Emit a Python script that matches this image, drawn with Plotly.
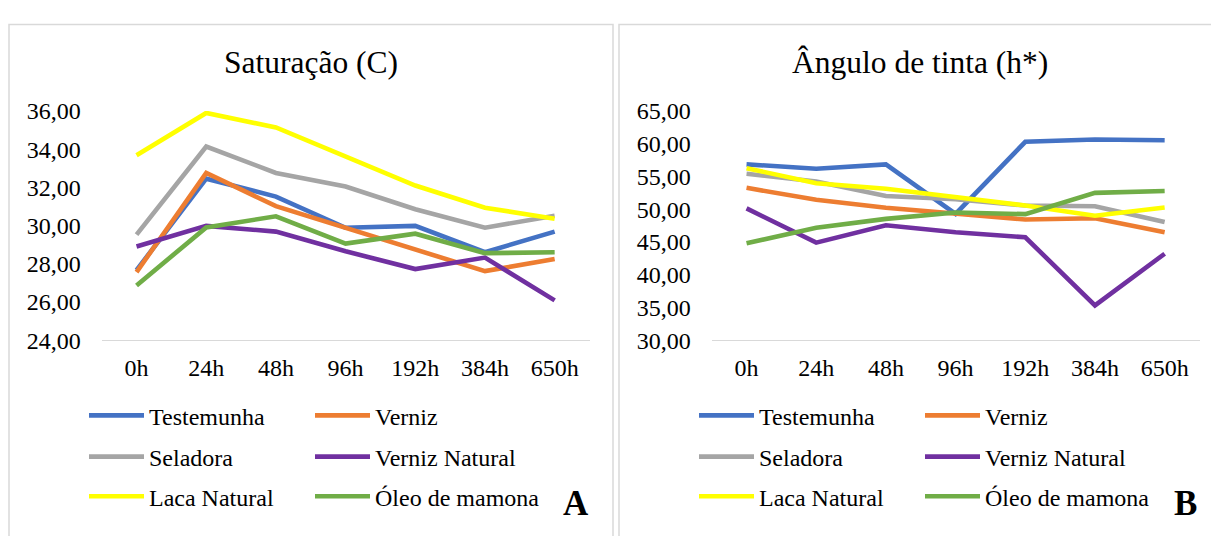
import plotly.graph_objects as go

categories = ["0h", "24h", "48h", "96h", "192h", "384h", "650h"]
series_names = ["Testemunha", "Verniz", "Seladora", "Verniz Natural", "Laca Natural", "Óleo de mamona"]
colors = ["#4472C4", "#ED7D31", "#A5A5A5", "#7030A0", "#FFFF00", "#70AD47"]

# Panel A: Saturação (C)
sat_testemunha = [27.67, 32.46, 31.52, 29.89, 29.99, 28.61, 29.69]
sat_verniz = [27.57, 32.76, 31.02, 29.89, 28.78, 27.62, 28.25]
sat_seladora = [29.53, 34.14, 32.76, 32.05, 30.86, 29.89, 30.52]
sat_verniz_natural = [28.91, 29.99, 29.69, 28.66, 27.73, 28.33, 26.09]
sat_laca_natural = [33.68, 35.90, 35.14, 33.60, 32.10, 30.94, 30.36]
sat_oleo = [26.87, 29.91, 30.49, 29.06, 29.58, 28.56, 28.61]

# Panel B: Ângulo de tinta (h*)
hue_testemunha = [56.86, 56.19, 56.86, 49.30, 60.30, 60.64, 60.54]
hue_verniz = [53.28, 51.44, 50.23, 49.26, 48.44, 48.64, 46.50]
hue_seladora = [55.41, 54.25, 52.02, 51.54, 50.57, 50.47, 48.05]
hue_verniz_natural = [50.14, 44.91, 47.57, 46.50, 45.73, 35.32, 43.21]
hue_laca_natural = [56.28, 53.96, 53.14, 51.93, 50.57, 49.02, 50.28]
hue_oleo = [44.81, 47.18, 48.54, 49.50, 49.26, 52.50, 52.80]

sat_series = [sat_testemunha, sat_verniz, sat_seladora, sat_verniz_natural, sat_laca_natural, sat_oleo]
hue_series = [hue_testemunha, hue_verniz, hue_seladora, hue_verniz_natural, hue_laca_natural, hue_oleo]

sat_ticks = [24, 26, 28, 30, 32, 34, 36]
hue_ticks = [30, 35, 40, 45, 50, 55, 60, 65]

W, H = 1211, 536
FONT = "Liberation Serif, Times New Roman, serif"

fig = go.Figure()

for i, (name, col) in enumerate(zip(series_names, colors)):
    row = i // 2
    fig.add_trace(go.Scatter(
        x=categories, y=sat_series[i], mode="lines", name=name,
        line=dict(color=col, width=4.6), xaxis="x", yaxis="y",
        legend="legend" if row == 0 else f"legend{row + 1}",
        legendwidth=156 if i % 2 == 0 else 220,
    ))
for i, (name, col) in enumerate(zip(series_names, colors)):
    row = i // 2
    fig.add_trace(go.Scatter(
        x=categories, y=hue_series[i], mode="lines", name=name,
        line=dict(color=col, width=4.6), xaxis="x2", yaxis="y2",
        legend=f"legend{row + 4}",
        legendwidth=156 if i % 2 == 0 else 220,
    ))

def px_x(p):
    return p / W

def px_y(p):
    return 1 - p / H

ydom = [px_y(344), px_y(103)]
axis_common = dict(
    type="category", categoryorder="array", categoryarray=categories,
    range=[-0.5, 6.5], showgrid=False, zeroline=False,
    showline=True, linecolor="#d9d9d9", linewidth=1.3, ticks="",
    tickfont=dict(family=FONT, size=24, color="#000"),
    ticklabelstandoff=6,
)
yaxis_common = dict(
    showgrid=False, zeroline=False, showline=False, ticks="",
    tickformat=".2f", tickfont=dict(family=FONT, size=24, color="#000"),
    ticklabelstandoff=20, domain=ydom,
)

legend_rows_y = [423.3, 466.7, 508.3]
legend_common = dict(
    orientation="h", xanchor="left", yanchor="middle", xref="paper", yref="paper",
    font=dict(family=FONT, size=24, color="#000"), bgcolor="rgba(0,0,0,0)",
    itemwidth=55, entrywidthmode="pixels", itemclick=False,
)

layout = dict(
    width=W, height=H, margin=dict(l=0, r=0, t=0, b=0),
    paper_bgcolor="white", plot_bgcolor="white", separators=",.",
    xaxis=dict(domain=[px_x(101.7), px_x(589.5)], anchor="y", **axis_common),
    yaxis=dict(range=[24, 36], tickvals=sat_ticks, anchor="x", **yaxis_common),
    xaxis2=dict(domain=[px_x(711.7), px_x(1199.5)], anchor="y2", **axis_common),
    yaxis2=dict(range=[30, 65], tickvals=hue_ticks, anchor="x2", **yaxis_common),
    showlegend=True,
)
for r in range(3):
    key = "legend" if r == 0 else f"legend{r + 1}"
    layout[key] = dict(x=px_x(84), y=px_y(legend_rows_y[r]), **legend_common)
    layout[f"legend{r + 4}"] = dict(x=px_x(84 + 610), y=px_y(legend_rows_y[r]), **legend_common)

fig.update_layout(**layout)

# panel borders
fig.add_shape(type="rect", xref="paper", yref="paper",
              x0=px_x(9), x1=px_x(613), y0=-0.2, y1=px_y(12),
              line=dict(color="#d9d9d9", width=1.5), fillcolor="rgba(0,0,0,0)", layer="below")
fig.add_shape(type="rect", xref="paper", yref="paper",
              x0=px_x(619), x1=1.2, y0=-0.2, y1=px_y(12),
              line=dict(color="#d9d9d9", width=1.5), fillcolor="rgba(0,0,0,0)", layer="below")

# titles
fig.add_annotation(text="Saturação (C)", x=px_x(310.5), y=px_y(52), xref="paper", yref="paper",
                   showarrow=False, xanchor="center", yanchor="middle",
                   font=dict(family=FONT, size=31.5, color="#000"))
fig.add_annotation(text="Ângulo de tinta (h*)", x=px_x(920), y=px_y(52), xref="paper", yref="paper",
                   showarrow=False, xanchor="center", yanchor="middle",
                   font=dict(family=FONT, size=31.5, color="#000"))

# panel letters
fig.add_annotation(text="<b>A</b>", x=px_x(576), y=px_y(516), xref="paper", yref="paper",
                   showarrow=False, xanchor="center", yanchor="middle",
                   font=dict(family=FONT, size=35, color="#000"))
fig.add_annotation(text="<b>B</b>", x=px_x(1185), y=px_y(516), xref="paper", yref="paper",
                   showarrow=False, xanchor="center", yanchor="middle",
                   font=dict(family=FONT, size=35, color="#000"))

fig.write_html(
    "out.html",
    config={"displayModeBar": False},
    post_script="document.body.style.margin='0px';document.body.style.overflow='hidden';",
)
